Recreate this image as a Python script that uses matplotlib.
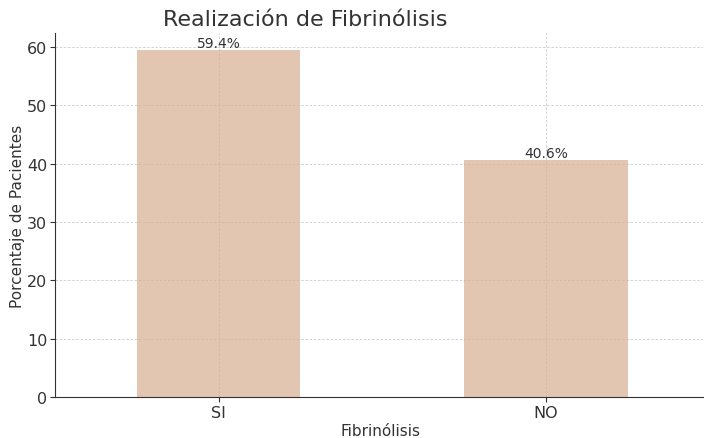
import matplotlib
matplotlib.use("Agg")
import matplotlib.pyplot as plt

categorias = ["SI", "NO"]
porcentajes = [59.4, 40.6]
etiquetas = ["59.4%", "40.6%"]

fig = plt.figure(figsize=(7.04, 4.39), dpi=100)
ax = fig.add_axes([0.078, 0.0934, 0.9206, 0.8292])

ax.grid(True, linestyle=(0, (3, 2)), color="#cccccc", linewidth=0.6)
ax.set_axisbelow(True)
barras = ax.bar(categorias, porcentajes, width=0.5, color="#d6af91", alpha=0.7)
for b, t in zip(barras, etiquetas):
    ax.text(b.get_x() + b.get_width() / 2, b.get_height(), t,
            ha="center", va="bottom", fontsize=10, color="#333333")

ax.set_xlim(-0.5, 1.48)
ax.set_ylim(0, 62.4)
for s in ["top", "right"]:
    ax.spines[s].set_visible(False)
for s in ["left", "bottom"]:
    ax.spines[s].set_color("#333333")
ax.tick_params(colors="#333333", labelsize=11.5, pad=2)
ax.set_xlabel("Fibrinólisis", fontsize=11, color="#333333")
ax.set_ylabel("Porcentaje de Pacientes", fontsize=11, color="#333333")
ax.xaxis.set_label_coords(0.503, -0.072)
ax.yaxis.set_label_coords(-0.046, 0.5)
fig.text(305 / 704, 1 - 20 / 439, "Realización de Fibrinólisis", ha="center", va="center",
         fontsize=16, color="#333333")

fig.savefig("out.png", dpi=100)
